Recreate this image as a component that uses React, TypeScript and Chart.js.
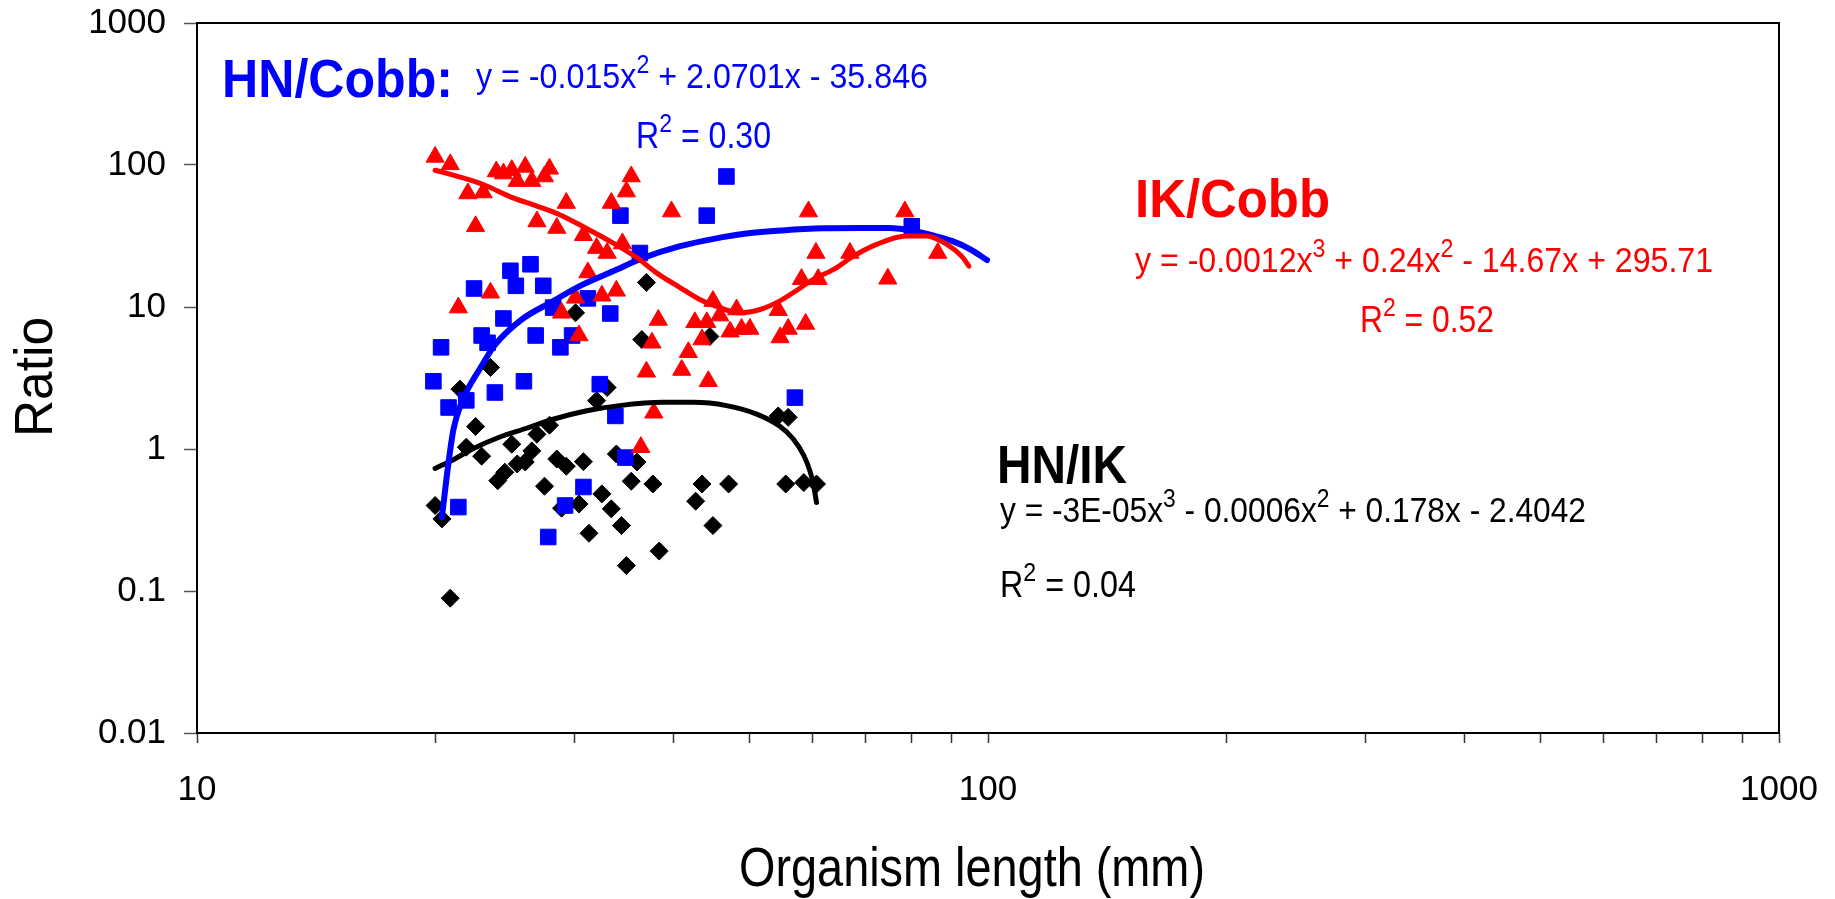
import { useEffect, useRef } from 'react';
import { Chart, registerables } from 'chart.js';

Chart.register(...registerables);

const W = 1835;
const H = 899;
const FONT = '"Liberation Sans", Arial, Helvetica, sans-serif';

// Axis ticks
const xTickValues = [10, 20, 30, 40, 50, 60, 70, 80, 90, 100, 200, 300, 400, 500, 600, 700, 800, 900, 1000];
const xTickLabels = [10, 100, 1000];
const yTickValues = [0.01, 0.1, 1, 10, 100, 1000];

// HN/Cobb ratio (blue squares)
const hnCobbLength = [46.7, 34.3, 44.1, 36.3, 24.9, 26.4, 22.4, 25.3, 27.4, 31.2, 28.2, 33.3, 24.4, 26.8, 22.9, 23.3, 28.8, 29.8, 20.35, 19.9, 25.9, 23.8, 21.9, 20.8, 32.3, 33.8, 57.0, 34.8, 30.8, 29.2, 27.8, 21.4, 80.1];
const hnCobbRatio = [83, 44, 44, 24, 18, 20, 13.5, 14.1, 14.1, 11.5, 9.9, 9.0, 8.3, 6.3, 6.3, 5.6, 5.2, 6.3, 5.2, 3.0, 3.0, 2.5, 2.2, 1.96, 2.86, 1.71, 2.3, 0.87, 0.54, 0.40, 0.24, 0.39, 37];

// IK/Cobb ratio (red triangles)
const ikCobbLength = [20.0, 20.9, 22.0, 23.0, 22.5, 23.9, 24.4, 25.0, 26.0, 25.4, 26.5, 27.9, 27.5, 29.3, 26.9, 28.5, 30.8, 32.0, 33.0, 34.5, 35.4, 34.9, 33.4, 39.8, 31.2, 30.1, 32.5, 33.9, 23.5, 21.4, 28.9, 30.4, 38.3, 37.6, 37.0, 41.0, 41.8, 42.6, 44.1, 43.5, 44.3, 44.9, 45.8, 47.2, 48.1, 48.8, 50.0, 54.3, 54.6, 55.9, 37.8, 36.4, 59.3, 78.5, 60.6, 66.9, 58.1, 61.0, 74.7, 86.4, 58.8];
const ikCobbRatio = [114, 101, 63, 64, 37, 90, 87, 92, 97, 77, 77, 94, 83, 54, 40, 36, 32, 26, 24, 28, 83, 65, 54, 47, 17.5, 11.6, 12.0, 13.0, 12.6, 9.9, 9.1, 6.3, 8.1, 5.6, 3.5, 3.6, 4.8, 7.8, 7.8, 5.9, 3.0, 11.0, 8.7, 6.7, 9.6, 7.0, 7.0, 9.5, 6.1, 7.0, 1.8, 1.03, 47, 47, 24, 24, 15.7, 15.7, 15.8, 24, 7.6];

// HN/IK ratio (black diamonds)
const hnIkLength = [37.0, 30.1, 36.5, 44.5, 23.5, 21.5, 33.0, 32.0, 22.5, 54.3, 55.9, 21.9, 22.9, 25.0, 26.9, 27.9, 26.5, 26.0, 25.4, 24.5, 24.0, 20.0, 20.4, 20.9, 28.5, 29.3, 30.8, 27.5, 30.4, 28.9, 32.5, 33.4, 34.4, 31.3, 33.9, 36.0, 35.4, 37.7, 38.4, 34.9, 43.5, 42.7, 44.9, 47.0, 55.5, 58.5, 60.7];
const hnIkRatio = [14.9, 9.1, 5.9, 6.2, 3.75, 2.64, 2.71, 2.19, 1.44, 1.71, 1.67, 1.03, 0.89, 1.08, 1.27, 1.47, 0.97, 0.81, 0.785, 0.686, 0.598, 0.40, 0.322, 0.089, 0.85, 0.756, 0.814, 0.547, 0.41, 0.383, 0.483, 0.379, 0.289, 0.255, 0.922, 0.81, 0.593, 0.567, 0.191, 0.151, 0.567, 0.429, 0.289, 0.567, 0.567, 0.58, 0.567];

// Polynomial trend lines, sampled along each fitted curve
const hnCobbFitLength = [20.4, 20.8, 21.1, 21.6, 22.2, 22.8, 23.8, 25.6, 28.2, 30.5, 33.6, 36.7, 40.8, 45.0, 49.5, 55, 62, 69, 75, 80.4, 85, 90, 95, 99.7];
const hnCobbFitRatio = [0.33, 0.81, 1.38, 2.13, 2.9, 3.7, 5.4, 8.0, 11.0, 14.1, 17.9, 22.2, 26.8, 30.2, 32.9, 34.6, 35.8, 36.0, 36.0, 34.5, 32.0, 29.2, 25.5, 21.4];

const ikCobbFitLength = [20.0, 21.3, 23.0, 25.1, 26.9, 28.7, 31.0, 33.6, 36.0, 38.1, 40.8, 43.2, 45.8, 48.5, 51.5, 54.5, 56.7, 60.2, 63.8, 67.6, 72.3, 78.9, 83.6, 88.7, 92.6, 94.6];
const ikCobbFitRatio = [91.8, 83.5, 72.9, 58.7, 51.4, 44.8, 36.0, 28.2, 22.2, 17.4, 13.7, 11.3, 9.9, 9.1, 9.6, 11.0, 12.6, 15.7, 18.4, 22.8, 27.6, 31.6, 31.6, 27.6, 22.8, 19.4];

const hnIkFitLength = [20.0, 21.0, 22.3, 24.1, 26.1, 28.2, 31.1, 34.2, 38.8, 42.4, 46.7, 51.0, 54.5, 56.7, 58.5, 59.6, 60.2, 60.7];
const hnIkFitRatio = [0.73, 0.83, 1.0, 1.21, 1.40, 1.62, 1.86, 2.02, 2.13, 2.13, 2.02, 1.76, 1.45, 1.18, 0.90, 0.69, 0.55, 0.42];

const BLUE = '#0000ff';
const RED = '#ff0000';
const BLACK = '#000000';

type Seg = { t: string; sup?: boolean };

// Draws a run of text (with optional superscripts) squeezed to a given width
function drawRich(
  ctx: CanvasRenderingContext2D,
  segs: Seg[],
  x: number,
  baseline: number,
  size: number,
  bold: boolean,
  width: number,
  color: string,
) {
  const supSize = size * 0.72;
  const font = (s: number) => `${bold ? 'bold ' : ''}${s}px ${FONT}`;
  let natural = 0;
  for (const s of segs) {
    ctx.font = font(s.sup ? supSize : size);
    natural += ctx.measureText(s.t).width;
  }
  const sx = width / natural;
  ctx.save();
  ctx.translate(x, baseline);
  ctx.scale(sx, 1);
  ctx.fillStyle = color;
  ctx.textAlign = 'left';
  ctx.textBaseline = 'alphabetic';
  let cx = 0;
  for (const s of segs) {
    ctx.font = font(s.sup ? supSize : size);
    ctx.fillText(s.t, cx, s.sup ? -size * 0.42 : 0);
    cx += ctx.measureText(s.t).width;
  }
  ctx.restore();
}

const chartDecor = {
  id: 'chartDecor',
  beforeDatasetsDraw(chart: any) {
    const { ctx, chartArea } = chart;
    ctx.save();
    ctx.strokeStyle = BLACK;
    ctx.lineWidth = 2;
    ctx.strokeRect(chartArea.left, chartArea.top, chartArea.right - chartArea.left, chartArea.bottom - chartArea.top);
    ctx.restore();
  },
  afterDraw(chart: any) {
    const ctx: CanvasRenderingContext2D = chart.ctx;
    ctx.save();

    // Axis titles
    drawRich(ctx, [{ t: 'Organism length (mm)' }], 972 - 466 / 2, 886, 56, false, 466, BLACK);
    ctx.save();
    ctx.translate(52, 437);
    ctx.rotate(-Math.PI / 2);
    drawRich(ctx, [{ t: 'Ratio' }], 0, 0, 54, false, 120, BLACK);
    ctx.restore();

    // HN/Cobb fit
    drawRich(ctx, [{ t: 'HN/Cobb:' }], 222, 97, 53, true, 231, BLUE);
    drawRich(ctx, [{ t: 'y = -0.015x' }, { t: '2', sup: true }, { t: ' + 2.0701x - 35.846' }], 476, 88, 35, false, 452, BLUE);
    drawRich(ctx, [{ t: 'R' }, { t: '2', sup: true }, { t: ' = 0.30' }], 636, 148, 37, false, 135, BLUE);

    // IK/Cobb fit
    drawRich(ctx, [{ t: 'IK/Cobb' }], 1135, 217, 53, true, 195, RED);
    drawRich(ctx, [{ t: 'y = -0.0012x' }, { t: '3', sup: true }, { t: ' + 0.24x' }, { t: '2', sup: true }, { t: ' - 14.67x + 295.71' }], 1135, 272, 35, false, 578, RED);
    drawRich(ctx, [{ t: 'R' }, { t: '2', sup: true }, { t: ' = 0.52' }], 1360, 332, 37, false, 134, RED);

    // HN/IK fit
    drawRich(ctx, [{ t: 'HN/IK' }], 997, 483, 53, true, 130, BLACK);
    drawRich(ctx, [{ t: 'y = -3E-05x' }, { t: '3', sup: true }, { t: ' - 0.0006x' }, { t: '2', sup: true }, { t: ' + 0.178x - 2.4042' }], 1000, 522, 35, false, 586, BLACK);
    drawRich(ctx, [{ t: 'R' }, { t: '2', sup: true }, { t: ' = 0.04' }], 1000, 597, 37, false, 136, BLACK);

    ctx.restore();
  },
};

function pts(xs: number[], ys: number[]) {
  return xs.map((x, i) => ({ x, y: ys[i] }));
}

function markers(label: string, xs: number[], ys: number[], color: string, style: string, radius: number, order: number) {
  return {
    label,
    data: pts(xs, ys),
    backgroundColor: color,
    borderColor: color,
    borderWidth: 1,
    pointStyle: style,
    pointRadius: radius,
    pointHoverRadius: radius,
    showLine: false,
    order,
  };
}

function trend(label: string, xs: number[], ys: number[], color: string, width: number, order: number) {
  return {
    label,
    data: pts(xs, ys),
    borderColor: color,
    backgroundColor: color,
    borderWidth: width,
    pointRadius: 0,
    pointHoverRadius: 0,
    showLine: true,
    fill: false,
    cubicInterpolationMode: 'monotone',
    borderCapStyle: 'round',
    borderJoinStyle: 'round',
    order,
  };
}

// Keep the plot frame exactly where the layout padding puts it
function noScalePadding(s: any) {
  s.paddingTop = 0;
  s.paddingBottom = 0;
  s.paddingLeft = 0;
  s.paddingRight = 0;
}

export default function App() {
  const canvasRef = useRef<HTMLCanvasElement | null>(null);

  useEffect(() => {
    const canvas = canvasRef.current;
    if (!canvas) return;
    const chart = new Chart(canvas, {
      type: 'scatter',
      data: {
        datasets: [
          trend('IK/Cobb fit', ikCobbFitLength, ikCobbFitRatio, RED, 5, 0),
          trend('HN/Cobb fit', hnCobbFitLength, hnCobbFitRatio, BLUE, 6, 1),
          trend('HN/IK fit', hnIkFitLength, hnIkFitRatio, BLACK, 5, 2),
          markers('IK/Cobb', ikCobbLength, ikCobbRatio, RED, 'triangle', 10.5, 3),
          markers('HN/Cobb', hnCobbLength, hnCobbRatio, BLUE, 'rect', 11, 4),
          markers('HN/IK', hnIkLength, hnIkRatio, BLACK, 'rectRot', 9, 5),
        ] as any,
      },
      options: {
        animation: false,
        responsive: false,
        devicePixelRatio: 1,
        layout: { padding: { left: 0, top: 23, right: 56, bottom: 0 } },
        plugins: { legend: { display: false }, tooltip: { enabled: false } },
        events: [],
        scales: {
          x: {
            type: 'logarithmic',
            position: 'bottom',
            min: 10,
            max: 1000,
            afterBuildTicks: (s: any) => {
              s.ticks = xTickValues.map((v) => ({ value: v }));
            },
            afterFit: (s: any) => {
              s.height = 166;
              noScalePadding(s);
            },
            ticks: {
              autoSkip: false,
              maxRotation: 0,
              minRotation: 0,
              padding: 26,
              color: BLACK,
              font: { family: FONT, size: 35 },
              callback: (v: any) => (xTickLabels.includes(Number(v)) ? String(v) : ''),
            },
            grid: { drawOnChartArea: false, drawTicks: true, tickLength: 10, tickColor: '#333', tickWidth: 1.5 },
            border: { display: false },
          },
          y: {
            type: 'logarithmic',
            position: 'left',
            min: 0.01,
            max: 1000,
            afterBuildTicks: (s: any) => {
              s.ticks = yTickValues.map((v) => ({ value: v }));
            },
            afterFit: (s: any) => {
              s.width = 197;
              noScalePadding(s);
            },
            ticks: {
              autoSkip: false,
              padding: 18,
              color: BLACK,
              font: { family: FONT, size: 35 },
              callback: (v: any) => String(Number(v)),
            },
            grid: { drawOnChartArea: false, drawTicks: true, tickLength: 13, tickColor: '#555', tickWidth: 1.5 },
            border: { display: false },
          },
        },
      } as any,
      plugins: [chartDecor],
    });
    return () => chart.destroy();
  }, []);

  return (
    <div style={{ position: 'absolute', left: 0, top: 0, width: W, height: H, background: '#fff' }}>
      <canvas ref={canvasRef} width={W} height={H} style={{ width: W, height: H, display: 'block' }} />
    </div>
  );
}
